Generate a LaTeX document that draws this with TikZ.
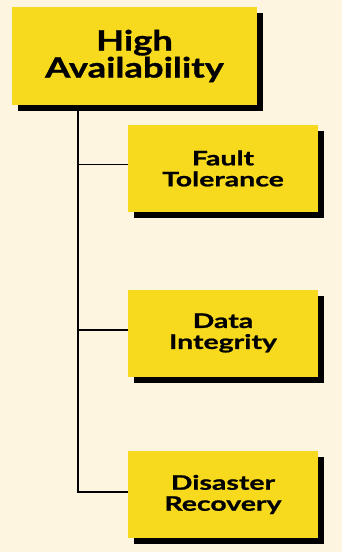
\documentclass[tikz,border=0pt]{standalone}
\usepackage{fontspec}
\setmainfont{Lato}
\newfontfamily\topfont{Lato}[FakeStretch=1.3,FakeBold=1]
\newfontfamily\subfont{Lato}[FakeStretch=1.42,FakeBold=1]
\usetikzlibrary{shadows}
\definecolor{bg}{HTML}{FDF5E0}
\definecolor{boxy}{HTML}{F7DA1E}
\begin{document}
\begin{tikzpicture}[x=1pt,y=-1pt,
  box/.style={fill=boxy, draw=none, align=center, inner sep=0pt,
    drop shadow={shadow xshift=6pt, shadow yshift=-6pt, fill=black, opacity=1}},
  bigbox/.style={box, minimum width=245pt, minimum height=98pt,
    font=\topfont\fontsize{28}{27}\bfseries\selectfont},
  smallbox/.style={box, minimum width=190pt, minimum height=87pt,
    font=\subfont\fontsize{20}{21}\bfseries\selectfont},
  link/.style={line width=1.8pt, black}]
\fill[bg] (0,0) rectangle (342,552);
\useasboundingbox (0,0) rectangle (342,552);
\node[bigbox] (top) at (134.5,56) {High\\Availability};
\node[smallbox] (c1) at (223,168.5) {Fault\\Tolerance};
\node[smallbox] (c2) at (223,333) {Data\\Integrity};
\node[smallbox] (c3) at (223,494.5) {Disaster\\Recovery};
\coordinate (t) at (78,105);
\draw[link] (t) |- ([yshift=2.5pt]c3.west);
\draw[link] ([yshift=4pt]c1.west) -- ([yshift=4pt]c1.west -| t);
\draw[link] ([yshift=3pt]c2.west) -- ([yshift=3pt]c2.west -| t);
\end{tikzpicture}
\end{document}
